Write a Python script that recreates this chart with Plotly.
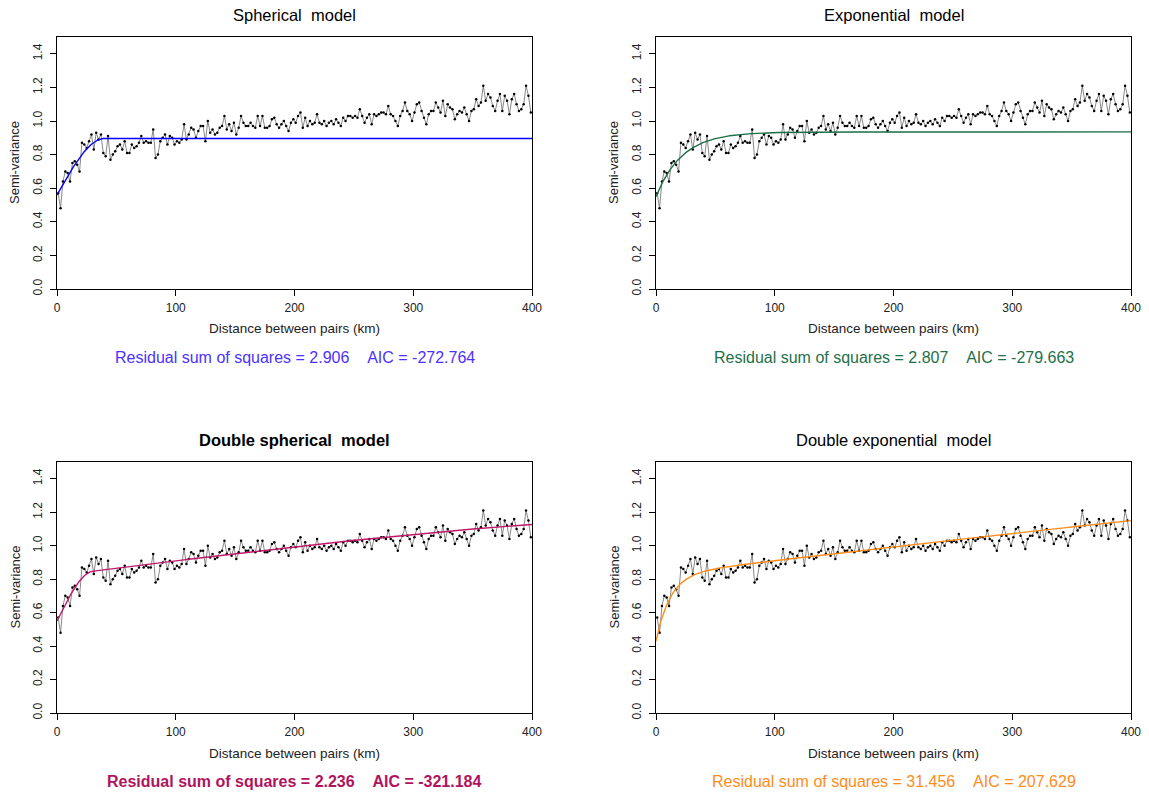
import numpy as np
import plotly.graph_objects as go

# Empirical semivariogram: lag-bin midpoints (km) and semi-variance
distance_km = list(range(1, 400, 2))
semivariance = [
    0.57, 0.48, 0.64, 0.70, 0.69, 0.64, 0.75, 0.76, 0.74, 0.70,
    0.87, 0.86, 0.84, 0.88, 0.92, 0.83, 0.93, 0.89, 0.92, 0.81,
    0.79, 0.91, 0.77, 0.80, 0.82, 0.85, 0.86, 0.83, 0.88, 0.81,
    0.81, 0.86, 0.84, 0.85, 0.87, 0.91, 0.87, 0.88, 0.87, 0.87,
    0.95, 0.78, 0.80, 0.88, 0.90, 0.92, 0.86, 0.91, 0.90, 0.86,
    0.88, 0.87, 0.89, 0.98, 0.89, 0.92, 0.96, 0.95, 0.90, 0.94,
    0.97, 0.97, 0.88, 1.00, 0.93, 0.95, 0.92, 0.93, 0.96, 0.97,
    1.03, 0.95, 0.98, 0.94, 0.99, 0.92, 0.96, 1.03, 0.99, 0.97,
    0.97, 0.99, 0.97, 0.96, 1.03, 0.97, 1.03, 0.96, 0.96, 0.97,
    1.01, 1.02, 0.98, 0.96, 0.98, 1.00, 0.97, 0.94, 0.99, 1.01,
    0.99, 1.03, 1.05, 0.96, 1.02, 0.97, 1.00, 0.98, 0.99, 1.04,
    0.99, 0.98, 1.00, 0.97, 0.99, 1.00, 0.98, 1.01, 0.99, 0.97,
    1.02, 1.00, 1.03, 1.03, 1.02, 1.03, 1.02, 1.07, 1.03, 0.99,
    1.02, 1.04, 0.98, 1.04, 1.03, 1.04, 1.05, 1.05, 1.04, 1.09,
    1.04, 1.03, 1.00, 0.97, 1.03, 1.06, 1.11, 1.06, 1.04, 1.00,
    1.05, 1.10, 1.11, 1.06, 1.02, 0.98, 1.04, 1.06, 1.06, 1.11,
    1.08, 1.05, 1.12, 1.03, 1.10, 1.08, 1.07, 1.01, 1.04, 1.06,
    1.05, 1.08, 1.04, 1.00, 1.06, 1.07, 1.13, 1.09, 1.11, 1.21,
    1.12, 1.16, 1.14, 1.09, 1.06, 1.12, 1.16, 1.06, 1.15, 1.12,
    1.04, 1.13, 1.16, 1.10, 1.06, 1.07, 1.10, 1.21, 1.15, 1.05,
]

model_titles = ["Spherical  model", "Exponential  model",
                "Double spherical  model", "Double exponential  model"]
model_colors = ["#0000FF", "#1B6E45", "#C0186A", "#FF8C1A"]
text_colors = ["#4B32FF", "#1E7048", "#B0145E", "#FF8C1A"]
rss_values = ["2.906", "2.807", "2.236", "31.456"]
aic_values = ["-272.764", "-279.663", "-321.184", "207.629"]
bold_panel = [False, False, True, False]

# Fitted model parameters
sph = dict(nugget=0.56, sill=0.336, rng=40.0)
expo = dict(nugget=0.55, sill=0.385, rng=22.0)
dsph = dict(nugget=0.55, sill1=0.27, rng1=30.0, sill2=0.36, rng2=600.0)
dexp = dict(nugget=0.43, sill1=0.395, rng1=12.0, sill2=2.6, rng2=3000.0)

h = np.linspace(0, 400, 801)


def spherical(h, c, a):
    r = np.minimum(h / a, 1.0)
    return c * (1.5 * r - 0.5 * r ** 3)


def exponential(h, c, a):
    return c * (1 - np.exp(-h / a))


curves = [
    sph["nugget"] + spherical(h, sph["sill"], sph["rng"]),
    expo["nugget"] + exponential(h, expo["sill"], expo["rng"]),
    dsph["nugget"] + spherical(h, dsph["sill1"], dsph["rng1"])
    + spherical(h, dsph["sill2"], dsph["rng2"]),
    dexp["nugget"] + exponential(h, dexp["sill1"], dexp["rng1"])
    + exponential(h, dexp["sill2"], dexp["rng2"]),
]

W, H = 1149, 797
x_domains = [(57 / W, 532 / W), (656 / W, 1131 / W)]
y_domains = [(1 - 289 / H, 1 - 37 / H), (1 - 713 / H, 1 - 462 / H)]

font_family = "Liberation Sans, Arial, sans-serif"
fig = go.Figure()
annotations = []
layout_axes = {}

for i in range(4):
    row, col = divmod(i, 2)
    xd, yd = x_domains[col], y_domains[row]
    ax = "" if i == 0 else str(i + 1)
    xref, yref = "x" + ax, "y" + ax

    fig.add_trace(go.Scatter(
        x=distance_km, y=semivariance, mode="lines+markers",
        line=dict(color="#6a6a6a", width=0.8),
        marker=dict(color="black", size=2.5),
        xaxis=xref, yaxis=yref, showlegend=False, hoverinfo="skip"))
    fig.add_trace(go.Scatter(
        x=h, y=curves[i], mode="lines",
        line=dict(color=model_colors[i], width=1.4),
        xaxis=xref, yaxis=yref, showlegend=False))

    common = dict(showline=True, linecolor="black", linewidth=1, mirror=True,
                  ticks="outside", ticklen=6, tickcolor="black",
                  showgrid=False, zeroline=False, automargin=False,
                  tickfont=dict(family=font_family, size=12, color="#222"))
    layout_axes["xaxis" + ax] = dict(
        domain=list(xd), range=[0, 400], tickvals=[0, 100, 200, 300, 400],
        anchor=yref, ticklabelstandoff=2, **common)
    layout_axes["yaxis" + ax] = dict(
        domain=list(yd), range=[0, 1.5],
        tickvals=[0, 0.2, 0.4, 0.6, 0.8, 1.0, 1.2, 1.4],
        ticktext=["0.0", "0.2", "0.4", "0.6", "0.8", "1.0", "1.2", "1.4"],
        tickangle=-90, anchor=xref, ticklabelstandoff=3, **common)

    cx = (xd[0] + xd[1]) / 2
    top_px = 37 if row == 0 else 462
    bottom_px = 289 if row == 0 else 713
    title = f"<b>{model_titles[i]}</b>" if bold_panel[i] else model_titles[i]
    annotations.append(dict(
        text=title, x=cx, y=1 - (top_px - 22) / H, xref="paper", yref="paper",
        showarrow=False, xanchor="center", yanchor="middle",
        font=dict(family=font_family, size=16.5, color="black")))
    annotations.append(dict(
        text="Distance between pairs (km)", x=cx,
        y=1 - (bottom_px + 40) / H, xref="paper", yref="paper",
        showarrow=False, xanchor="center", yanchor="middle",
        font=dict(family=font_family, size=13.5, color="#222")))
    annotations.append(dict(
        text="Semi-variance", textangle=-90,
        x=(xd[0] * W - 42) / W, y=(yd[0] + yd[1]) / 2,
        xref="paper", yref="paper", showarrow=False,
        xanchor="center", yanchor="middle",
        font=dict(family=font_family, size=13, color="#222")))
    stats = (f"Residual sum of squares = {rss_values[i]}"
             f"&nbsp;&nbsp;&nbsp;&nbsp;AIC = {aic_values[i]}")
    if bold_panel[i]:
        stats = f"<b>{stats}</b>"
    annotations.append(dict(
        text=stats, x=cx, y=1 - (bottom_px + 68) / H,
        xref="paper", yref="paper", showarrow=False,
        xanchor="center", yanchor="middle",
        font=dict(family=font_family, size=16, color=text_colors[i])))

fig.update_layout(
    width=W, height=H, margin=dict(l=0, r=0, t=0, b=0),
    paper_bgcolor="white", plot_bgcolor="white",
    annotations=annotations, **layout_axes)

fig.write_html("out.html")
